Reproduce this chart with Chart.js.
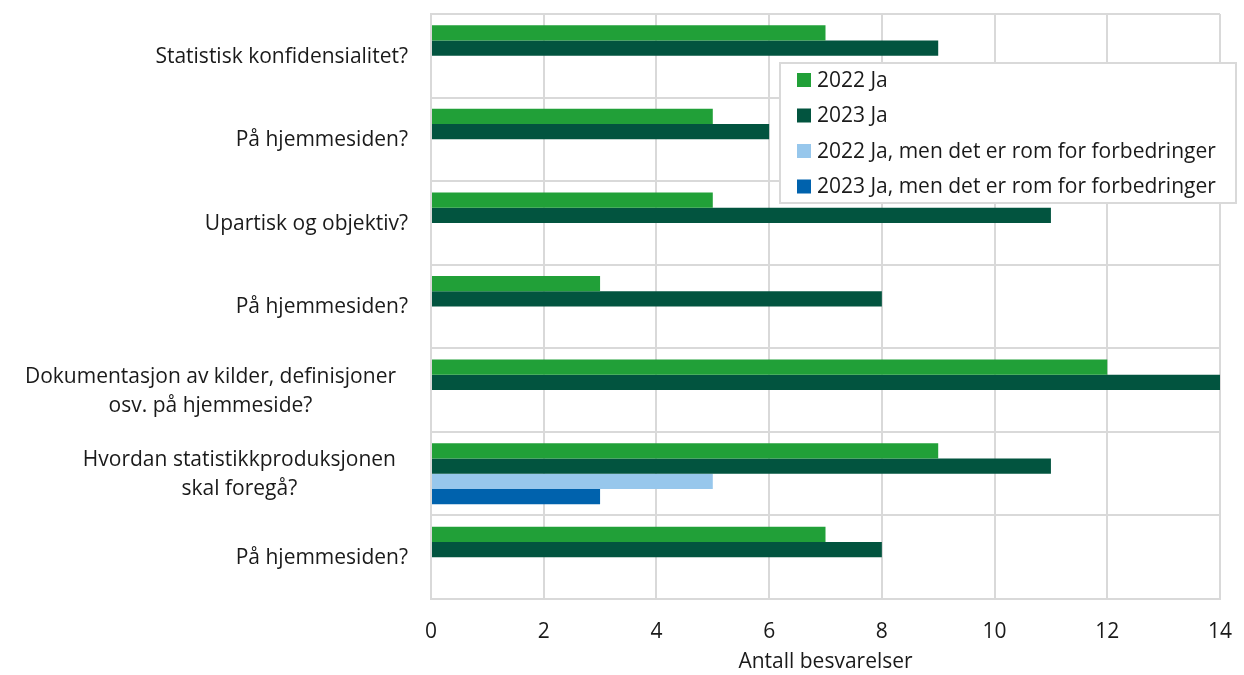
<!DOCTYPE html>
<html>
<head>
<meta charset="utf-8">
<script src="https://cdn.jsdelivr.net/npm/chart.js@4/dist/chart.umd.min.js"></script>
<style>
  html, body { margin: 0; padding: 0; background: #ffffff; }
  #wrap { width: 1244px; height: 675px; position: relative; }
</style>
</head>
<body>
<div id="wrap"><canvas id="c" width="1244" height="675"></canvas></div>
<script>
// ---- data ----
const categories = [
  "Statistisk konfidensialitet?",
  "På hjemmesiden?",
  "Upartisk og objektiv?",
  "På hjemmesiden?",
  ["Dokumentasjon av kilder, definisjoner", "osv. på hjemmeside?"],
  ["Hvordan statistikkproduksjonen", "skal foregå?"],
  "På hjemmesiden?"
];
const seriesNames = [
  "2022 Ja",
  "2023 Ja",
  "2022 Ja, men det er rom for forbedringer",
  "2023 Ja, men det er rom for forbedringer"
];
const ja2022 = [7, 5, 5, 3, 12, 9, 7];
const ja2023 = [9, 6, 11, 8, 14, 11, 8];
const rom2022 = [null, null, null, null, null, 5, null];
const rom2023 = [null, null, null, null, null, 3, null];
const xTicks = [0, 2, 4, 6, 8, 10, 12, 14];
const xTitle = "Antall besvarelser";

const colors = ["#21a038", "#02543f", "#97c7ec", "#0062ad"];
const FONT = '"Open Sans", "Noto Sans", sans-serif';
const FS = 21;
const TEXT = "#1a1a1a";
const GRID = "#d9d9d9";

// custom y-axis label drawing (Excel-like centered multi-line blocks)
const yLabelPlugin = {
  id: "yLabels",
  afterDraw(chart) {
    const ctx = chart.ctx;
    const y = chart.scales.y;
    ctx.save();
    ctx.font = FS + "px " + FONT;
    ctx.fillStyle = TEXT;
    ctx.textBaseline = "middle";
    ctx.textAlign = "center";
    const lineH = 29;
    chart.data.labels.forEach((lab, i) => {
      const lines = Array.isArray(lab) ? lab : [lab];
      const cy = y.getPixelForValue(i);
      const widths = lines.map(l => ctx.measureText(l).width);
      const w = Math.max(...widths);
      const right = lines.length > 1 ? 396 : 408;
      const cx = right - w / 2;
      const y0 = cy - (lines.length - 1) * lineH / 2;
      lines.forEach((l, k) => ctx.fillText(l, cx, y0 + k * lineH + 1));
    });
    ctx.restore();
  }
};

// legend box drawn inside the plot area
const boxLegendPlugin = {
  id: "boxLegend",
  afterDraw(chart) {
    const ctx = chart.ctx;
    const L = 780, T = 63, R = 1236, B = 203;
    ctx.save();
    ctx.fillStyle = "#ffffff";
    ctx.fillRect(L, T, R - L, B - T);
    ctx.strokeStyle = GRID;
    ctx.lineWidth = 2;
    ctx.strokeRect(L, T, R - L, B - T);
    ctx.font = FS + "px " + FONT;
    ctx.textBaseline = "middle";
    ctx.textAlign = "left";
    chart.data.datasets.forEach((ds, i) => {
      const cy = 80 + i * 35.5;
      ctx.fillStyle = ds.backgroundColor;
      ctx.fillRect(797, cy - 7, 14, 14);
      ctx.fillStyle = TEXT;
      ctx.fillText(ds.label, 817, cy + 1);
    });
    ctx.restore();
  }
};

const seriesData = [ja2022, ja2023, rom2022, rom2023];

new Chart(document.getElementById("c"), {
  type: "bar",
  data: {
    labels: categories,
    datasets: seriesData.map((d, i) => ({
      label: seriesNames[i],
      data: d,
      backgroundColor: colors[i],
      borderWidth: 0,
      categoryPercentage: 0.73,
      barPercentage: 1.0
    }))
  },
  options: {
    indexAxis: "y",
    responsive: false,
    animation: false,
    layout: { padding: { left: 431, right: 24, top: 14, bottom: 0 } },
    plugins: { legend: { display: false }, tooltip: { enabled: false } },
    scales: {
      x: {
        min: 0, max: 14,
        afterBuildTicks(scale) { scale.ticks = xTicks.map(v => ({ value: v })); },
        afterFit(scale) { scale.height = 76; scale.paddingLeft = 0; scale.paddingRight = 0; },
        grid: { color: GRID, lineWidth: 2, drawTicks: false },
        border: { color: GRID, width: 2 },
        ticks: { color: TEXT, font: { family: FONT, size: FS }, padding: 20, maxRotation: 0 },
        title: { display: true, text: xTitle, color: TEXT, font: { family: FONT, size: FS }, padding: { top: 4, bottom: 0 } }
      },
      y: {
        afterFit(scale) { scale.width = 0; scale.paddingTop = 0; scale.paddingBottom = 0; },
        grid: { color: GRID, lineWidth: 2, drawTicks: false, offset: true },
        border: { color: GRID, width: 2 },
        ticks: { display: false }
      }
    }
  },
  plugins: [yLabelPlugin, boxLegendPlugin]
});
</script>
</body>
</html>
